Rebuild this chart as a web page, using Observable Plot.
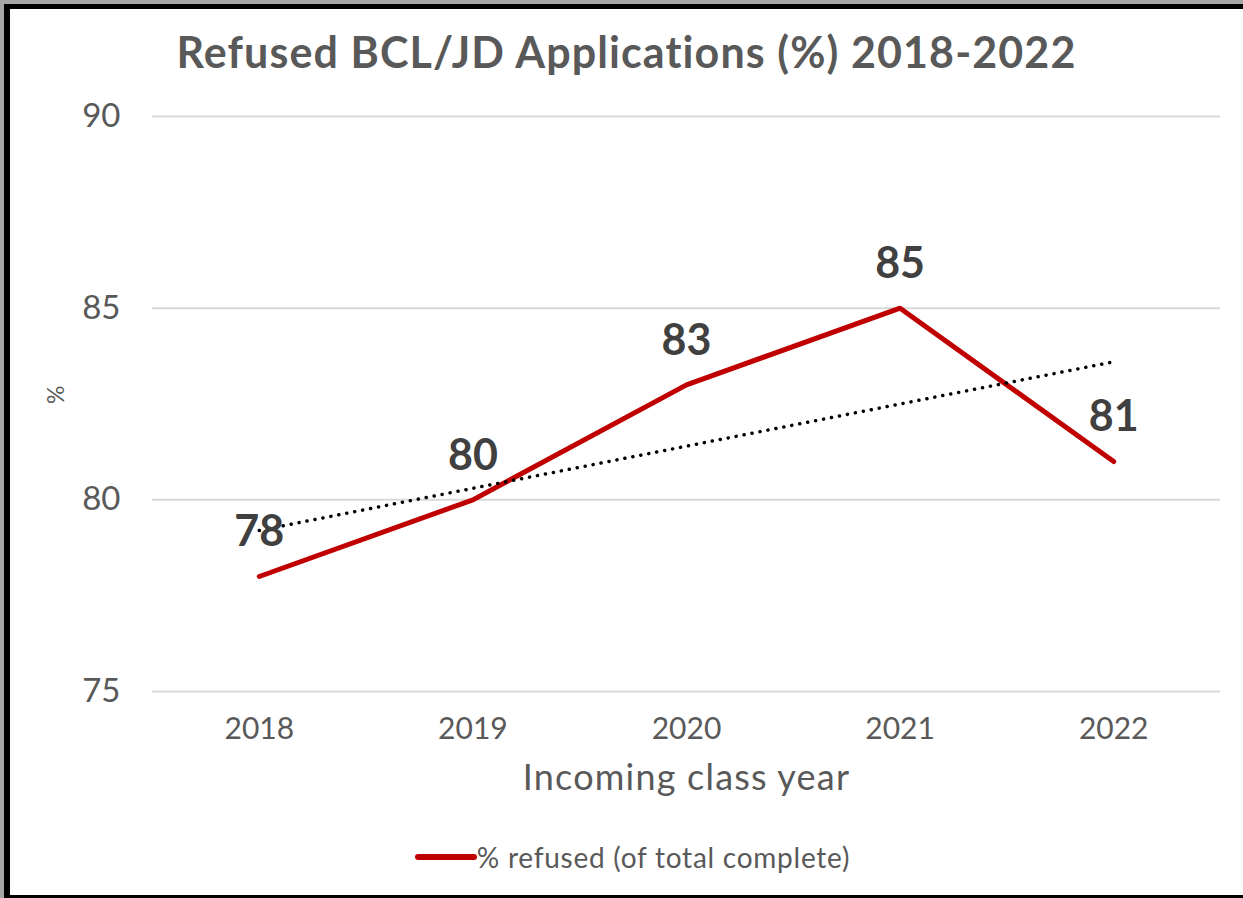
<!DOCTYPE html>
<html>
<head>
<meta charset="utf-8">
<script src="https://cdn.jsdelivr.net/npm/d3@7"></script>
<script src="https://cdn.jsdelivr.net/npm/@observablehq/plot@0.6"></script>
<style>
  html, body { margin: 0; padding: 0; background: #ffffff; }
  #page { position: relative; width: 1243px; height: 898px; overflow: hidden; background: #fff; font-family: Lato, "Open Sans", sans-serif; }
  .bd { position: absolute; }
  #title { position: absolute; top: 27px; left: 10px; width: 1233px; text-align: center; font-weight: 700; font-size: 43px; line-height: 50px; color: #595959; letter-spacing: 1.1px; }
  #chart { position: absolute; top: 95px; left: 0; line-height: 0; }
  #legend { position: absolute; top: 839px; left: 16px; width: 1233px; display: flex; justify-content: center; align-items: center; font-size: 28px; line-height: 36px; color: #595959; letter-spacing: 0.75px; }
</style>
</head>
<body>
<div id="page">
  <div class="bd" style="left:0;top:0;width:1243px;height:4px;background:#a6a6a6"></div>
  <div class="bd" style="left:0;top:0;width:4px;height:898px;background:#a6a6a6"></div>
  <div class="bd" style="left:4px;top:4px;width:1239px;height:5px;background:#000"></div>
  <div class="bd" style="left:4px;top:4px;width:6px;height:894px;background:#000"></div>
  <div class="bd" style="left:4px;top:895px;width:1239px;height:3px;background:#000"></div>
  <div id="title">Refused BCL/JD Applications (%) 2018-2022</div>
  <div id="chart"></div>
  <div id="legend"><svg width="62" height="12"><line x1="3" y1="6" x2="59" y2="6" stroke="#c00000" stroke-width="6" stroke-linecap="round"/></svg><span id="legendText"></span></div>
</div>
<script>
const years = [2018, 2019, 2020, 2021, 2022];
const refusedPct = [78, 80, 83, 85, 81];
const yTicks = [75, 80, 85, 90];
const seriesName = "% refused (of total complete)";
const xLabel = "Incoming class year";
const yLabel = "%";

document.getElementById("legendText").textContent = seriesName;

const data = years.map((yr, i) => ({year: yr, value: refusedPct[i]}));

const chart = Plot.plot({
  width: 1243,
  height: 710,
  marginLeft: 152,
  marginRight: 23,
  marginTop: 21,
  marginBottom: 114,
  style: {fontFamily: "Lato, 'Open Sans', sans-serif", color: "#595959", background: "transparent"},
  x: {type: "linear", domain: [2017.5, 2022.5], ticks: years, tickFormat: d => String(d), label: null},
  y: {domain: [75, 90], ticks: yTicks, label: null},
  marks: [
    Plot.ruleY(yTicks, {stroke: "#d9d9d9", strokeWidth: 2}),
    Plot.axisY({ticks: yTicks, tickSize: 0, tickPadding: 32, fontSize: 33, label: null}),
    Plot.axisX({ticks: years, tickFormat: d => String(d), tickSize: 0, tickPadding: 26, fontSize: 30, label: null}),
    Plot.text([xLabel], {frameAnchor: "bottom", dy: 98, fontSize: 36, fill: "#595959"}),
    Plot.text([yLabel], {frameAnchor: "left", dx: -96, rotate: -90, fontSize: 23, fill: "#595959"}),
    Plot.line(data, {x: "year", y: "value", stroke: "#c00000", strokeWidth: 5, strokeLinecap: "round", strokeLinejoin: "miter"}),
    Plot.linearRegressionY(data, {x: "year", y: "value", ci: 0, stroke: "#000", strokeWidth: 3.5, strokeDasharray: "0.1 8", strokeLinecap: "round"}),
    Plot.text(data, {x: "year", y: "value", text: d => String(d.value), dy: -44, fontSize: 43, fontWeight: 700, fill: "#404040"})
  ]
});
d3.select(chart).selectAll("text").filter(function() { return this.textContent === xLabel; }).style("letter-spacing", "1.2px");
document.getElementById("chart").appendChild(chart);
</script>
</body>
</html>
